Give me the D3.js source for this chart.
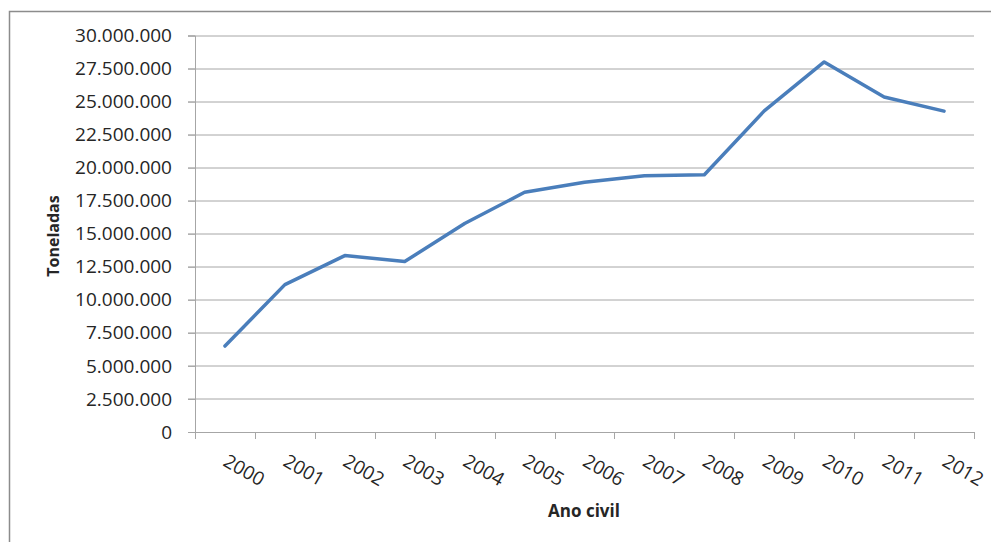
<!DOCTYPE html>
<html>
<head>
<meta charset="utf-8">
<script src="https://cdn.jsdelivr.net/npm/d3@7"></script>
<style>
    body { margin: 0; background: #fff; }
    svg { display: block; }
    text { font-family: "Open Sans", sans-serif; fill: #262626; }
</style>
</head>
<body>
<svg id="chart" width="991" height="542"></svg>
<script>
"use strict"

// Ano civil x Toneladas
const years = ["2000", "2001", "2002", "2003", "2004", "2005", "2006",
    "2007", "2008", "2009", "2010", "2011", "2012"];
const toneladas = [6500000, 11150000, 13350000, 12900000, 15770000, 18140000, 18900000,
    19380000, 19460000, 24300000, 28000000, 25350000, 24280000];
const yTicks = [0, 2500000, 5000000, 7500000, 10000000, 12500000, 15000000,
    17500000, 20000000, 22500000, 25000000, 27500000, 30000000];

const data = years.map((d, i) => ({ year: d, value: toneladas[i] }));

const svg = d3.select("#chart");
const margin = { top: 35.5, right: 17, bottom: 110, left: 195 };
const width = 991 - margin.left - margin.right;
const height = 542 - margin.top - margin.bottom;

// outer frame of the chart area
svg.append("path")
    .attr("d", "M9.5,542V11.5H991")
    .attr("fill", "none")
    .attr("stroke", "#8c8c8c")
    .attr("stroke-width", 1.5);

const g = svg.append("g").attr("transform", `translate(${margin.left},${margin.top})`);

const x = d3.scaleBand().domain(years).range([0, width]);
const y = d3.scaleLinear().domain([0, 30000000]).range([height, 0]);

const fmt = d3.formatLocale({ decimal: ",", thousands: ".", grouping: [3], currency: ["R$", ""] }).format(",d");

// gridlines
g.append("g")
    .selectAll("line")
    .data(yTicks.slice(1))
    .join("line")
    .attr("x1", -7)
    .attr("x2", width)
    .attr("y1", d => Math.round(y(d)) + 0.5)
    .attr("y2", d => Math.round(y(d)) + 0.5)
    .attr("stroke", "#a6a6a6");

// y axis
const yAxis = g.append("g")
    .call(d3.axisLeft(y).tickValues(yTicks).tickFormat(fmt).tickSize(7).tickPadding(16));
yAxis.select(".domain").attr("stroke", "#a6a6a6");
yAxis.selectAll(".tick line").attr("stroke", "#a6a6a6");
yAxis.selectAll("text")
    .style("font-size", "19px")
    .attr("fill", "#262626");

// x axis with ticks on band boundaries
const xAxis = g.append("g").attr("transform", `translate(0,${height})`);
xAxis.append("line")
    .attr("x1", -7).attr("x2", width)
    .attr("y1", 0.5).attr("y2", 0.5)
    .attr("stroke", "#a6a6a6");
xAxis.selectAll(".xtick")
    .data(years.concat(["end"]))
    .join("line")
    .attr("class", "xtick")
    .attr("x1", (d, i) => Math.round(i * x.step()) + 0.5)
    .attr("x2", (d, i) => Math.round(i * x.step()) + 0.5)
    .attr("y1", 0)
    .attr("y2", 7)
    .attr("stroke", "#a6a6a6");
xAxis.selectAll(".xlabel")
    .data(years)
    .join("text")
    .attr("class", "xlabel")
    .attr("transform", d => `translate(${x(d) + x.bandwidth() / 2 - 3},33) rotate(30)`)
    .style("font-size", "19px")
    .text(d => d);

// line
const line = d3.line()
    .x(d => x(d.year) + x.bandwidth() / 2)
    .y(d => y(d.value));

g.append("path")
    .datum(data)
    .attr("d", line)
    .attr("fill", "none")
    .attr("stroke", "#4a7ebb")
    .attr("stroke-width", 3.5)
    .attr("stroke-linejoin", "round")
    .attr("stroke-linecap", "round");

// axis titles
svg.append("text")
    .attr("transform", "translate(59,236) rotate(-90)")
    .attr("text-anchor", "middle")
    .style("font-size", "16px")
    .style("font-weight", "bold")
    .attr("fill", "#000")
    .text("Toneladas");

svg.append("text")
    .attr("x", 584)
    .attr("y", 517)
    .attr("text-anchor", "middle")
    .style("font-size", "17px")
    .style("font-weight", "bold")
    .attr("fill", "#000")
    .text("Ano civil");
</script>
</body>
</html>
